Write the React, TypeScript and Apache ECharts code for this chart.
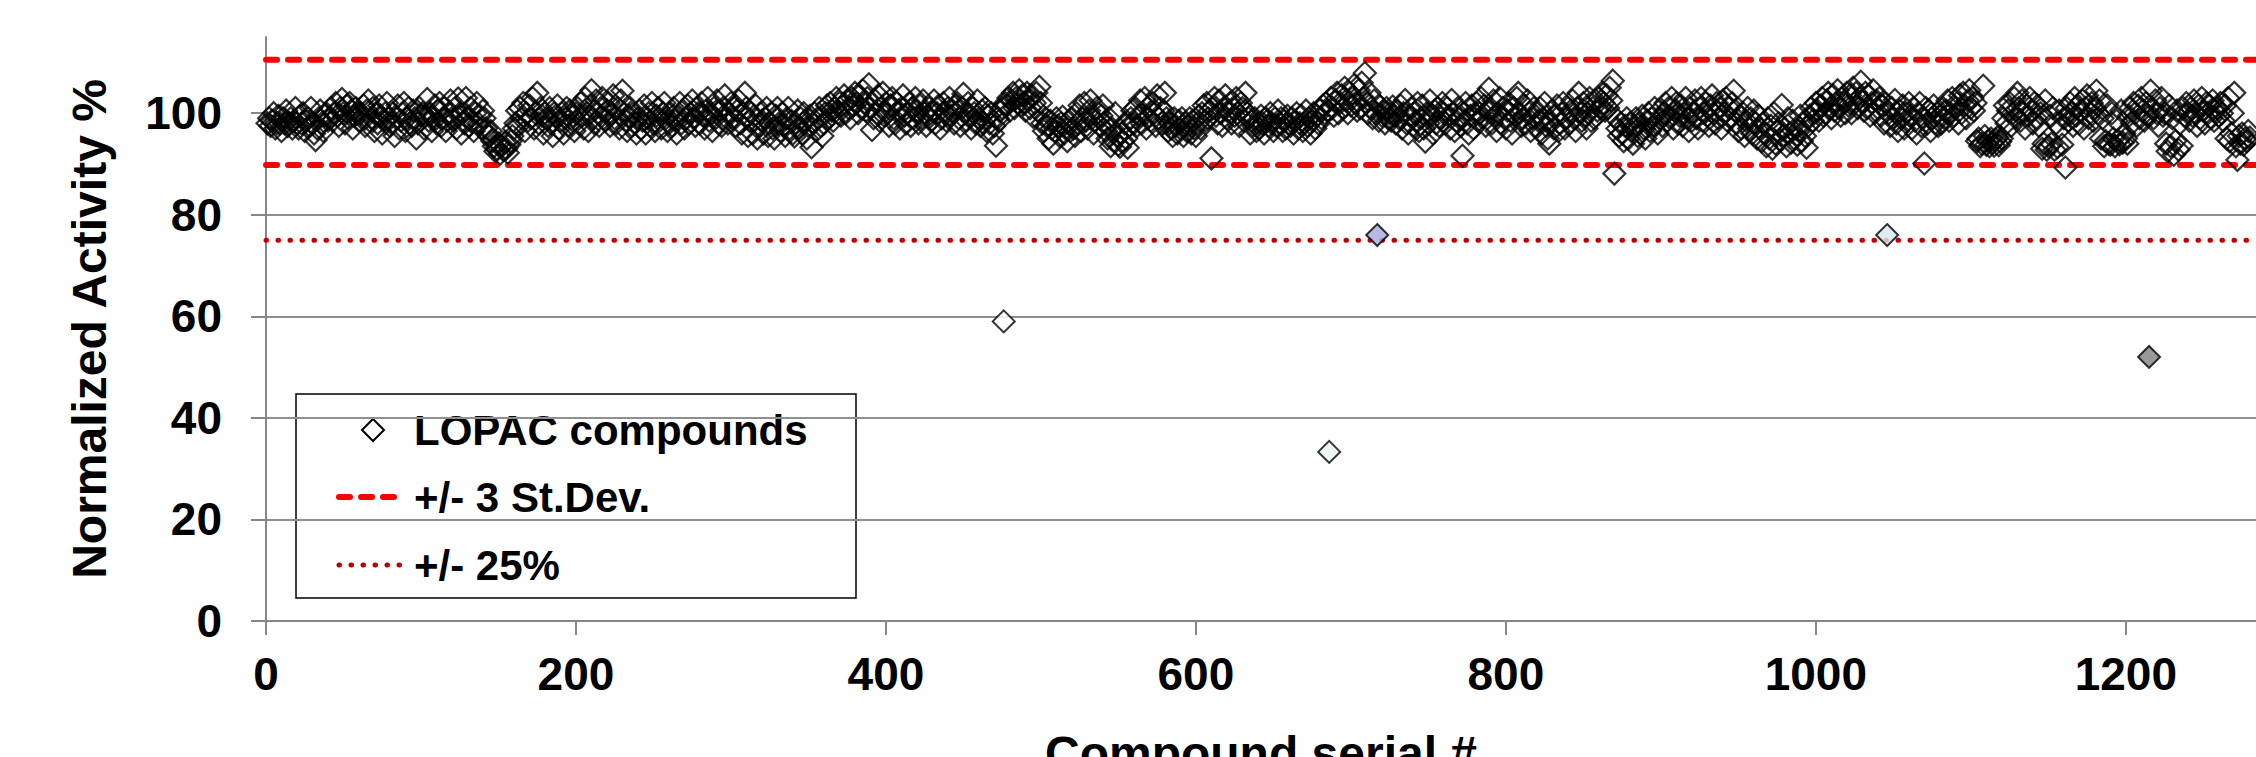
import React, { useEffect, useRef } from "react";
import * as echarts from "echarts";

// Normalized activity (%) of the LOPAC compounds, serial # 1..1280 (null = drawn in the highlighted list)
const normalizedActivity: (number | null)[] = [
  98, 99, 97.5, 98.5, 100, 97, 98, 99.5, 98, 96.5, 99, 98, 100.5, 97.5, 98, 99, 97, 98.5, 101, 98,
  97, 99.5, 98, 100, 96.5, 98.5, 99, 97.5, 101, 98, 96, 94.7, 97, 99, 100.5, 98, 96.5, 99.5, 100, 98.5,
  99, 101, 98.5, 100, 102, 99.5, 97.5, 101, 102.8, 100, 98, 101.5, 99, 102, 100.5, 97, 99.5, 101, 100, 98.5,
  100, 99, 101.5, 97.5, 100.5, 102.5, 98.5, 99, 101, 96.5, 100, 98, 101.5, 99.5, 96, 98.5, 100, 102, 99, 97.5,
  98, 100, 95.5, 99, 101.5, 97, 98.5, 100, 102, 96.5, 99, 101, 98, 97.5, 100.5, 99, 95, 98, 101, 99.5,
  100, 97, 99.5, 102.8, 98.5, 100, 96.5, 99, 101.5, 98, 100.5, 102, 97.5, 99, 101, 96.5, 98.5, 100, 102.5, 99,
  98.5, 101, 97, 102.9, 99.5, 96, 100, 98, 103, 99, 97.5, 101, 98.5, 96.5, 100, 102, 98, 99.5, 97, 100.5,
  99, 97, 96, 95.5, 96.5, 94.5, 93.5, 92.5, 93, 94, 92, 93.5, 92.8, 94.2, 93, 92.2, 93.8, 94.5, 95.5, 97,
  98, 100.5, 97.5, 101, 99, 102, 96.5, 100, 98.5, 101.5, 99, 103, 97, 100, 104, 98, 101, 99.5, 96, 100,
  99, 97.5, 101, 98, 95.5, 100, 99.5, 101.5, 97, 98.5, 100, 96, 99, 101, 97.5, 100.5, 98, 99.5, 96.5, 100,
  101, 98, 102, 99.5, 97, 103, 100, 96.5, 101.5, 104.5, 99, 98, 102.5, 100, 97.5, 101, 103, 99, 98.5, 100.5,
  102, 97.5, 100, 103.5, 99, 98, 101, 97, 102.5, 104.4, 100, 98.5, 96.5, 99.5, 101, 97.5, 100, 98, 96, 99,
  100.5, 97, 98.5, 101.5, 96, 99, 100, 97.5, 102, 98, 96.5, 99.5, 101, 98.5, 97, 100, 102, 99, 96.5, 98,
  100, 97.5, 101, 98.5, 96, 99.5, 102, 98, 100.5, 97, 99, 101.5, 98, 100, 102.5, 99, 97.5, 101, 100, 98,
  102, 99.5, 97, 100.5, 103, 98.5, 100, 96.5, 101, 99, 102.5, 98, 100.5, 97.5, 101, 103.5, 99, 98, 100, 102,
  99, 101, 97.5, 100.5, 102.5, 98, 96, 100, 104, 101, 95.5, 98.5, 100, 96, 99.5, 101.5, 95, 97.5, 100, 98.5,
  96, 99, 101, 95.5, 98, 100, 97, 95, 99.5, 101, 98, 96.5, 100, 97.5, 95.5, 99, 101, 97, 98.5, 96,
  95.4, 98, 100.5, 97, 99, 96, 100, 98.5, 95, 97.5, 99.5, 93.3, 98, 100, 96.5, 99, 101, 97.5, 95.5, 98,
  100, 101.5, 99, 102, 100.5, 98.5, 101, 103, 100, 102, 99.5, 101.5, 103.5, 100, 102.5, 101, 99, 103, 101.5, 104,
  102, 100, 103.5, 101, 104.5, 102, 100.5, 103, 105.7, 101, 96.7, 99, 102.5, 100, 103.5, 98.5, 101, 104, 99.5, 102,
  100, 97.5, 101.5, 103, 99, 98, 102, 100.5, 97, 101, 103.5, 99.5, 98, 100, 102, 97.5, 101, 99, 103, 100.5,
  98, 101.5, 99, 102.5, 100, 97.5, 99.5, 101, 98.5, 100.5, 102.5, 98, 100, 101.5, 97, 99, 102, 100, 98.5, 101,
  103, 99.5, 100.5, 98, 101.5, 102, 99, 97.5, 101, 103.8, 100, 98.5, 102, 99.5, 97, 101, 100, 98, 102.5, 99,
  97.5, 100.5, 98, 101, 96.5, 99.5, 98, 100, 96, 97.5, 93.6, 99, 98.5, 100.5, 101, null, 102, 101.5, 103, 100.5,
  102.5, 104, 101, 103, 102, 104.5, 101.5, 103.5, 102, 100.5, 104, 102.5, 101, 103.5, 99.3, 102, 104, 100.5, 105.2, 102,
  98, 96.5, 99, 97.5, 95, 98.5, 97, 94, 96.5, 99, 97.5, 95.5, 98, 99.3, 96, 97, 94.5, 98.5, 96.5, 99,
  97, 95.5, 100, 98, 101.5, 96.5, 99, 102, 98.5, 97, 100.5, 102.5, 99, 96, 98.5, 101, 100, 97.5, 99.5, 101.5,
  98, 96.5, 95, 99, 93.5, 97, 94.5, 100, 95.5, 93.8, 93.4, 96, 94.5, 98, 95, 93.2, 97.5, 99, 100.5, 98,
  101, 97.5, 99.5, 102.5, 98, 100, 103, 97, 99, 101.5, 98.5, 102, 100, 97.5, 103.5, 99, 101, 98, 100.5, 104,
  99, 96.5, 98, 97, 95.5, 99, 97.5, 96, 98.5, 97, 99, 95.5, 98, 96.5, 97.5, 99, 96, 98.5, 97, 95.5,
  98, 99.5, 97, 100, 101.5, 98.5, 102, 99, 100.5, 91.1, 101, 103, 99.5, 98, 102.5, 100, 97.5, 101, 103.5, 99,
  100.5, 102, 98, 101, 99.5, 103, 100, 97.5, 102, 101, 98.5, 104, 100, 99, 96, 98.5, 97.5, 99, 96.5, 98,
  97, 99.5, 98, 96, 99, 98.5, 97.5, 100, 98, 96.5, 99, 97.5, 100.5, 98, 99, 96.5, 98.5, 97, 99.5, 98,
  97.5, 99, 96, 98.5, 100, 97, 98, 99.5, 96.5, 98, 100.5, 97.5, 99, 96, 98.5, 100, 97, 99.5, 98, 100.6,
  99, 101.5, 100, 102, 100.5, null, 103, 101, 99.5, 102.5, 104, 100, 102, 103.5, 101, 105, 102.5, 100, 104, 101.5,
  103, 105.5, 102, 100.5, 104.5, 101, 106, 103, 107.9, 102, 100, 104, 101, 99, 102.5, 100, null, 98.5, 101.3, 99.5,
  100.5, 98, 101, 99, 100, 98.5, 101.3, 99.5, 98, 100.5, 99, 101.5, 97, 100, 102.6, 98, 96, 99.5, 101, 97.5,
  100, 98.5, 102, 96.5, 99, 101.5, 97, 94.4, 100, 98, 102.5, 99.5, 96, 100.5, 98, 101, 97.5, 99, 102, 100,
  98, 101, 99.5, 97, 102.6, 100, 96.5, 98.5, 101, 99, 97.5, 91.6, 100, 102, 98, 96, 99.5, 101.5, 97, 100,
  102, 98.5, 100, 103, 99, 101.5, 97.5, 100.5, 104.8, 101, 98, 102.5, 99.5, 96.5, 100, 103, 98, 101, 99, 97,
  100.5, 102, 98.5, 96, 101, 99.5, 103, 104, 100, 97.5, 99, 101.5, 98, 102.5, 100, 96.5, 99, 101, 97.5, 100,
  98.5, 101, 96, 99, 102, 97.5, 95, 94, 98, 100.5, 97, 99.5, 101.5, 96.5, 98, 100, 102, 97, 99, 101,
  98, 100.5, 102.5, 99, 96.5, 101, 104, 100, 98.5, 102, 99.5, 97, 100, 103, 98.5, 101, 99, 102.5, 100.5, 103,
  101, 104, 102, 100.5, 103.5, 101, 105, 102.5, 106.4, 88.1, 99, 97, 95.5, 98, 96, 94.5, 97.5, 99, 95, 98,
  96.5, 94, 97.5, 99, 95.5, 98, 96, 99.5, 97, 95, 98.5, 100, 96.5, 99, 97.5, 101, 98, 96, 100.5, 99,
  97.5, 100, 102, 98.5, 101, 99, 103, 97, 100.5, 102, 98, 99.5, 101.5, 97.5, 100, 103, 99, 96.5, 101, 98.5,
  100, 102.5, 99, 97, 101, 103, 98.5, 100, 102, 99.5, 97.5, 101.5, 103.5, 100, 98, 102, 99, 101, 97, 102.5,
  100, 103, 98.5, 101, 99, 102, 104.4, 100.5, 98, 96.5, 99.5, 97, 100, 95.5, 98.5, 101, 97, 99, 96, 100.5,
  98, 95, 99.5, 97, 94.5, 98, 96, 93.5, 99, 95, 97.5, 93, 100, 94, 96.5, 98, 94.7, 101.6, 95.5, 97,
  93.5, 99, 96, 94.2, 98.5, 95, 97, 93.8, 96.5, 99.5, 94.5, 98, 95.5, 93.2, 97.5, 99.5, 101, 98.5, 100, 102,
  100.5, 98.5, 101.5, 103, 99.5, 100, 102.5, 104, 101, 99, 103.5, 100.5, 102, 104.5, 101, 99.5, 103, 102, 100, 104,
  101.5, 103.5, 100, 105, 102, 104, 101, 103, 106.2, 102.5, 100.5, 104, 101, 103.5, 99.5, 102, 104.5, 100, 102.5, 101,
  103, 99.5, 101.5, 98, 102, null, 100, 97.5, 101, 99, 102.6, 98, 96.5, 100.5, 99, 101.5, 97, 100, 98.5, 102,
  99.5, 97, 101, 98.5, 96, 100, 102, 97.5, 99, 90.1, 101, 98, 100.5, 96.5, 99, 101.5, 98, 100, 97.5, 99.5,
  98, 101, 99, 100.5, 102.5, 98.5, 100, 103, 99.5, 101, 102, 98, 103.5, 100, 104, 101.5, 99, 102.5, 104.5, 101,
  103, 100.5, 102, 94.5, 95, 93.5, 94, 105.4, 95.5, 93.8, 94.5, 93.5, 95, 94.2, 93.6, 94.8, 95.2, 93.7, 94.4, 95,
  99, 101.5, 98, 100.5, 102, 97.5, 100, 103, 99, 104, 101, 98.5, 102.5, 100, 97, 101.5, 99.5, 103, 100.5, 98,
  102, 99, 101.5, 97.5, 100, 93, 94, 102.5, 92.8, 93.5, 99.5, 94, 101, 92.8, 98, 93.3, 100.5, 97, 93.8, 99,
  89.3, 101, 98.5, 102, 100, 97.5, 103, 99.5, 101.5, 98, 100.5, 102.5, 97, 101, 103.5, 99, 100, 102, 98.5, 101,
  104.4, 100, 102.5, 95, 99, 93.5, 94.5, 101.5, 94, 93.8, 100, 95, 93.5, 98.5, 94.6, 93.9, 100.5, 94.2, 96, 95,
  94, 99.5, 101, 98, 102, 100, 97.5, 101.5, 99, 103, 100.5, 98.5, 102, 99.5, null, 104.4, 101, 99, 102.5, 100,
  97.5, 101, 103, 99.5, 100, 94, 92.5, 101.5, 93.5, 99, 91.8, 94.5, 100.5, 92.8, 98, 93.6, 101, 99.5, 102, 100,
  98.5, 101, 99.5, 102.5, 100, 97.5, 101.5, 99, 103, 100.5, 98, 102, 100, 101.5, 99, 102.5, 98.5, 100.5, 101, 99.5,
  102, 100, 98.5, 101.5, 95, 103, 94.5, 96, 100, 104, 93.5, 90.8, 95.5, 94, 96, 93.8, 95, 94.5, 96.5, 95.2,
];

// Compounds drawn with a coloured fill
const highlightSerial = [476, 686, 717, 1046, 1215];
const highlightActivity = [59, 33.3, 76, 76, 52];
const highlightFill = ["#ffffff", "#e6f2f2", "#a6a8de", "#d6eaec", "#808080"];

// Reference levels
const sdUpper = 110.5;
const sdLower = 89.8;
const cutoff25 = 75;

// Axes
const xMin = 0;
const xMax = 1284;
const xTicks = [0, 200, 400, 600, 800, 1000, 1200];
const yMin = 0;
const yMax = 115;
const yTicks = [0, 20, 40, 60, 80, 100];

const legendLabels = ["LOPAC compounds", "+/- 3 St.Dev.", "+/- 25%"];

const FONT = "'Liberation Sans', Arial, sans-serif";

export default function App() {
  const ref = useRef<HTMLDivElement>(null);

  useEffect(() => {
    if (!ref.current) return;
    const chart = echarts.init(ref.current, null, { renderer: "svg" });

    const bandData: number[][] = [];
    normalizedActivity.forEach((v, i) => {
      if (v !== null) bandData.push([i + 1, v]);
    });
    const highlightData = highlightSerial.map((s, i) => ({
      value: [s, highlightActivity[i]],
      itemStyle: { color: highlightFill[i] },
    }));

    const axisGray = "#868686";

    chart.setOption({
      animation: false,
      textStyle: { fontFamily: FONT },
      grid: {
        left: 266,
        right: 0,
        top: 37,
        bottom: 136,
        containLabel: false,
        outerBoundsMode: "none",
      },
      xAxis: {
        type: "value",
        min: xMin,
        max: xMax,
        interval: 200,
        name: "Compound serial #",
        nameLocation: "middle",
        nameGap: 108,
        nameTextStyle: { fontSize: 48, fontWeight: "bold", color: "#000", fontFamily: FONT },
        axisLine: { show: true, lineStyle: { color: axisGray, width: 2 } },
        axisTick: { show: true, length: 14, customValues: xTicks, lineStyle: { color: axisGray, width: 2 } },
        axisLabel: {
          customValues: xTicks,
          formatter: (v: number) => String(v),
          fontSize: 46,
          fontWeight: "bold",
          color: "#000",
          margin: 30,
          fontFamily: FONT,
        },
        splitLine: { show: false },
      },
      yAxis: {
        type: "value",
        min: yMin,
        max: yMax,
        interval: 20,
        name: "Normalized Activity %",
        nameLocation: "middle",
        nameGap: 153,
        nameTextStyle: { fontSize: 48, fontWeight: "bold", color: "#000", fontFamily: FONT },
        axisLine: { show: true, lineStyle: { color: axisGray, width: 2 } },
        axisTick: { show: true, length: 15, customValues: yTicks, lineStyle: { color: axisGray, width: 2 } },
        axisLabel: {
          customValues: yTicks,
          formatter: (v: number) => String(v),
          fontSize: 46,
          fontWeight: "bold",
          color: "#000",
          margin: 44,
          fontFamily: FONT,
        },
        splitLine: {
          show: true,
          showMinLine: false,
          showMaxLine: false,
          lineStyle: { color: "#8f8f8f", width: 2 },
        },
      },
      series: [
        {
          name: "+/- 3 St.Dev.",
          type: "line",
          data: [
            [xMin, sdUpper],
            [xMax, sdUpper],
          ],
          showSymbol: false,
          symbol: "none",
          lineStyle: { color: "#ff0000", width: 6, type: [11, 11], cap: "round" },
          z: 2,
        },
        {
          name: "+/- 3 St.Dev. lower",
          type: "line",
          data: [
            [xMin, sdLower],
            [xMax, sdLower],
          ],
          showSymbol: false,
          symbol: "none",
          lineStyle: { color: "#ff0000", width: 6, type: [11, 11], cap: "round" },
          z: 2,
        },
        {
          name: "+/- 25%",
          type: "line",
          data: [
            [xMin, cutoff25],
            [xMax, cutoff25],
          ],
          showSymbol: false,
          symbol: "none",
          lineStyle: { color: "#c00000", width: 5, type: [0.5, 11.5], cap: "round" },
          z: 2,
        },
        {
          name: "LOPAC compounds",
          type: "scatter",
          data: bandData,
          symbol: "diamond",
          symbolSize: 22,
          itemStyle: { color: "rgba(0,0,0,0)", borderColor: "#000", borderWidth: 2.2 },
          z: 3,
        },
        {
          name: "LOPAC highlighted",
          type: "scatter",
          data: highlightData,
          symbol: "diamond",
          symbolSize: 22,
          itemStyle: { borderColor: "#000", borderWidth: 2 },
          z: 4,
        },
      ],
      graphic: [
        {
          type: "group",
          z: 100,
          children: [
            {
              type: "rect",
              shape: { x: 296, y: 394, width: 560, height: 204 },
              style: { fill: "#ffffff", stroke: "#000000", lineWidth: 1.5 },
            },
            {
              type: "polygon",
              shape: { points: [[373, 419], [384, 430], [373, 441], [362, 430]] },
              style: { fill: "#ffffff", stroke: "#000000", lineWidth: 2 },
            },
            {
              type: "text",
              x: 414,
              y: 430,
              style: {
                text: legendLabels[0],
                font: `bold 42px ${FONT}`,
                fill: "#000",
                textVerticalAlign: "middle",
                verticalAlign: "middle",
              },
            },
            {
              type: "line",
              shape: { x1: 339, y1: 497, x2: 399, y2: 497 },
              style: { stroke: "#ff0000", lineWidth: 6, lineDash: [11, 11], lineCap: "round" },
            },
            {
              type: "text",
              x: 414,
              y: 497,
              style: {
                text: legendLabels[1],
                font: `bold 42px ${FONT}`,
                fill: "#000",
                textVerticalAlign: "middle",
                verticalAlign: "middle",
              },
            },
            {
              type: "line",
              shape: { x1: 339, y1: 565, x2: 402, y2: 565 },
              style: { stroke: "#c00000", lineWidth: 5, lineDash: [0.5, 11.5], lineCap: "round" },
            },
            {
              type: "text",
              x: 414,
              y: 565,
              style: {
                text: legendLabels[2],
                font: `bold 42px ${FONT}`,
                fill: "#000",
                textVerticalAlign: "middle",
                verticalAlign: "middle",
              },
            },
          ],
        },
      ],
    });

    return () => {
      chart.dispose();
    };
  }, []);

  return (
    <div
      ref={ref}
      style={{ position: "absolute", left: 0, top: 0, width: 2256, height: 757, background: "#ffffff" }}
    />
  );
}
